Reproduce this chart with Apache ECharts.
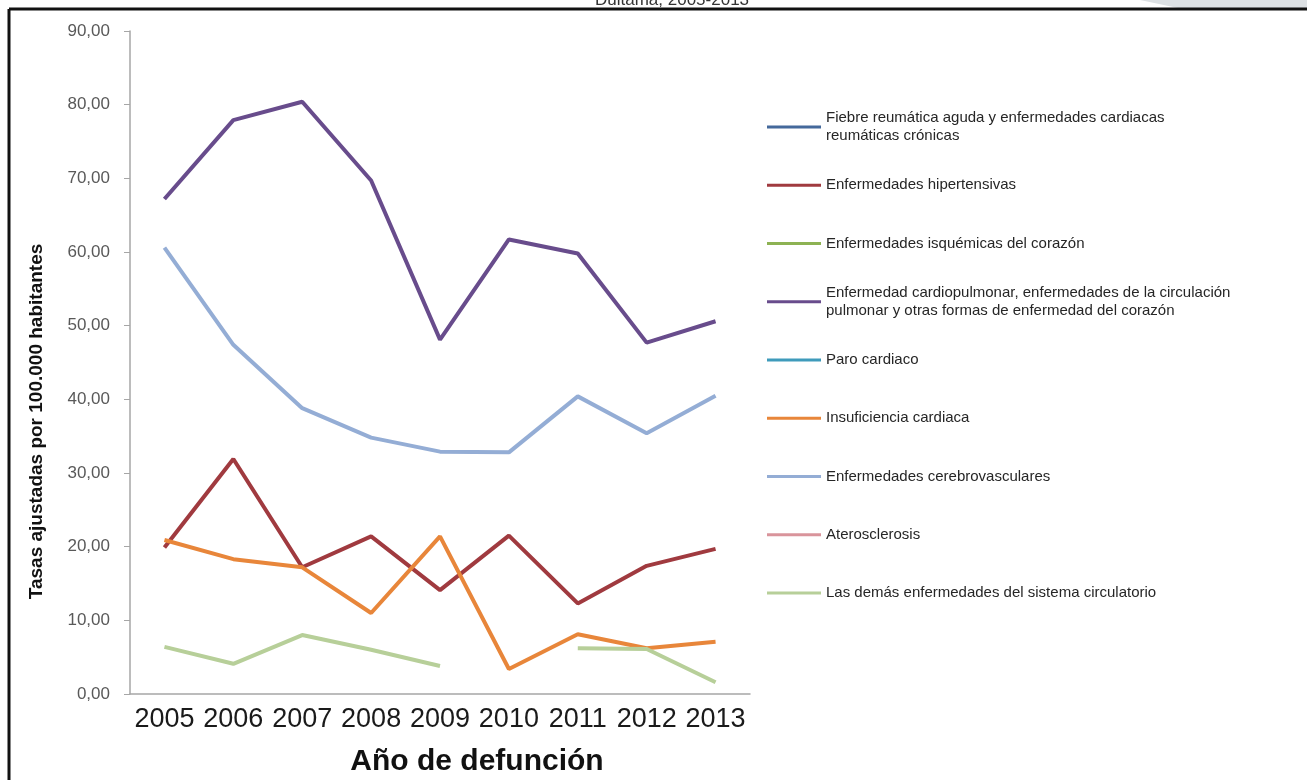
<!DOCTYPE html>
<html lang="es">
<head>
    <meta charset="UTF-8">
    <title>Tasas ajustadas - Duitama 2005-2013</title>
    <script src="https://cdn.jsdelivr.net/npm/echarts@6/dist/echarts.min.js"></script>
    <style>
        html, body { margin: 0; padding: 0; background: #fff; }
        #chart { width: 1307px; height: 780px; }
    </style>
</head>
<body>
<div id="chart"></div>
<script type="text/javascript">
    // años (eje x)
    var years = ['2005', '2006', '2007', '2008', '2009', '2010', '2011', '2012', '2013'];
    var yTicks = [0, 10, 20, 30, 40, 50, 60, 70, 80, 90];

    // series (null = sin dato)
    var fiebreReumatica = [null, null, null, null, null, null, null, null, null];
    var hipertensivas = [19.9, 31.9, 17.2, 21.4, 14.1, 21.5, 12.3, 17.4, 19.7];
    var isquemicas = [null, null, null, null, null, null, null, null, null];
    var cardiopulmonar = [67.2, 77.9, 80.4, 69.7, 48.1, 61.7, 59.8, 47.7, 50.6];
    var paroCardiaco = [null, null, null, null, null, null, null, null, null];
    var insuficiencia = [20.9, 18.3, 17.2, 11.0, 21.4, 3.4, 8.1, 6.2, 7.1];
    var cerebrovasculares = [60.6, 47.4, 38.8, 34.8, 32.9, 32.8, 40.4, 35.4, 40.5];
    var aterosclerosis = [null, null, null, null, null, null, null, null, null];
    var demas = [6.4, 4.1, 8.0, 6.0, 3.8, null, 6.2, 6.1, 1.6];

    var seriesNames = [
        'Fiebre reumática aguda y enfermedades cardiacas\nreumáticas crónicas',
        'Enfermedades hipertensivas',
        'Enfermedades isquémicas del corazón',
        'Enfermedad cardiopulmonar, enfermedades de la circulación\npulmonar y otras formas de enfermedad del corazón',
        'Paro cardiaco',
        'Insuficiencia cardiaca',
        'Enfermedades cerebrovasculares',
        'Aterosclerosis',
        'Las demás enfermedades del sistema circulatorio'
    ];
    var seriesData = [fiebreReumatica, hipertensivas, isquemicas, cardiopulmonar, paroCardiaco,
        insuficiencia, cerebrovasculares, aterosclerosis, demas];
    var colors = ['#44699b', '#a03a3f', '#8db253', '#684c8c', '#3f9bbb',
        '#e8863a', '#94add5', '#d9949b', '#b7cf99'];

    var myEcharts = echarts.init(document.getElementById('chart'));

    // una leyenda por elemento para respetar el espaciado vertical
    var legends = [];
    var series = [];
    for (var i = 0; i < seriesNames.length; i++) {
        var twoLines = seriesNames[i].indexOf('\n') >= 0;
        var cy = 127 + 58.25 * i;
        legends.push({
            data: [seriesNames[i]],
            orient: 'vertical',
            left: 767,
            top: twoLines ? cy - 27 : cy - 9,
            padding: 0,
            itemWidth: 54,
            itemHeight: 3,
            icon: 'rect',
            selectedMode: false,
            textStyle: {
                fontFamily: 'Liberation Sans, Arial, sans-serif',
                fontSize: 15,
                lineHeight: 18,
                color: '#262626',
                padding: twoLines ? [18, 0, 0, 0] : 0
            }
        });
        series.push({
            name: seriesNames[i],
            type: 'line',
            data: seriesData[i],
            symbol: 'none',
            connectNulls: false,
            itemStyle: { color: colors[i] },
            lineStyle: { width: 4, color: colors[i] }
        });
    }

    var option = {
        backgroundColor: '#fff',
        animation: false,
        title: {
            text: 'Duitama, 2005-2013',
            left: 590,
            top: -13,
            textStyle: {
                fontFamily: 'Liberation Sans, Arial, sans-serif',
                fontSize: 17,
                fontWeight: 'normal',
                color: '#333'
            }
        },
        legend: legends,
        grid: {
            left: 130,
            right: 557,
            top: 31,
            bottom: 86,
            outerBoundsMode: 'none'
        },
        xAxis: [{
            type: 'category',
            data: years,
            boundaryGap: true,
            name: 'Año de defunción',
            nameLocation: 'middle',
            nameGap: 53,
            nameTextStyle: {
                fontFamily: 'Liberation Sans, Arial, sans-serif',
                fontSize: 30,
                fontWeight: 'bold',
                color: '#111',
                padding: [0, 0, 0, 74]
            },
            axisLine: { lineStyle: { color: '#a6a6a6', width: 1.5 } },
            axisTick: { length: 7, lineStyle: { color: '#8c8c8c' } },
            axisLabel: {
                interval: 0,
                hideOverlap: false,
                margin: 12,
                fontFamily: 'Liberation Sans, Arial, sans-serif',
                fontSize: 27,
                color: '#1a1a1a'
            }
        }],
        yAxis: [{
            type: 'value',
            min: yTicks[0],
            max: yTicks[yTicks.length - 1],
            interval: 10,
            name: 'Tasas ajustadas por 100.000 habitantes',
            nameLocation: 'middle',
            nameGap: 84,
            nameTextStyle: {
                fontFamily: 'Liberation Sans, Arial, sans-serif',
                fontSize: 19,
                fontWeight: 'bold',
                color: '#111',
                padding: [0, 118, 0, 0]
            },
            splitLine: { show: false },
            axisLine: { show: true, lineStyle: { color: '#a6a6a6', width: 1.5 } },
            axisTick: { show: true, length: 6, lineStyle: { color: '#a6a6a6' } },
            axisLabel: {
                margin: 20,
                fontFamily: 'Liberation Sans, Arial, sans-serif',
                fontSize: 17,
                color: '#595959',
                formatter: function (v) { return v.toFixed(2).replace('.', ','); }
            }
        }],
        graphic: [
            { type: 'polygon', shape: { points: [[1140, 0], [1307, 0], [1307, 8], [1178, 8]] },
              style: { fill: '#dde1e4' }, silent: true },
            { type: 'line', shape: { x1: 9, y1: 9, x2: 1307, y2: 9 },
              style: { stroke: '#111', lineWidth: 3 }, silent: true },
            { type: 'line', shape: { x1: 9, y1: 9, x2: 9, y2: 780 },
              style: { stroke: '#111', lineWidth: 3 }, silent: true }
        ],
        series: series
    };

    myEcharts.setOption(option);
</script>
</body>
</html>
